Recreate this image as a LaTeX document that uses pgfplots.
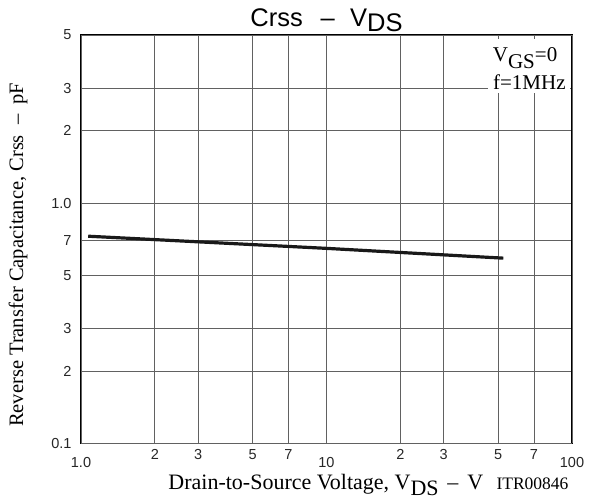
\documentclass[border=0pt]{standalone}
\usepackage{fontspec}
\setmainfont{Liberation Serif}
\setsansfont{Liberation Sans}
\usepackage{pgfplots}
\pgfplotsset{compat=1.18}
\begin{document}
\begin{tikzpicture}
\useasboundingbox (-81pt,-56.5pt) rectangle (509pt,443.5pt);
\begin{axis}[
  at={(0pt,0pt)}, anchor=south west,
  scale only axis, width=491pt, height=408.5pt,
  clip mode=individual,
  xmode=log, ymode=log,
  xmin=1, xmax=100, ymin=0.1, ymax=5,
  xtick={2,3,5,7,20,30,50,70},
  xticklabels={2,3,5,7,2,3,5,7},
  extra x ticks={1,10,100},
  extra x tick labels={1.0,10,100},
  extra x tick style={grid=major, xticklabel style={yshift=-8pt}},
  ytick={0.2,0.3,0.5,0.7,1,2,3},
  yticklabels={2,3,5,7,1.0,2,3},
  extra y ticks={0.1,5},
  extra y tick labels={0.1,5},
  extra y tick style={grid=major},
  xminorticks=false, yminorticks=false,
  major tick length=0pt,
  tick style={draw=none},
  grid=major,
  major grid style={black!62, line width=0.8pt},
  axis line style={line width=1.5pt, black},
  tick label style={font=\sffamily\fontsize{14.5}{16}\selectfont, text=black!85},
  xticklabel style={yshift=-2pt},
  yticklabel style={xshift=-6pt},
  every axis title shift=0pt,
  title={Crss\hspace{0.7em}–\hspace{0.6em}V\raisebox{-5pt}{DS}},
  title style={font=\sffamily\fontsize{25.5}{28}\selectfont, at={(axis description cs:0.5,1)}, anchor=base, yshift=8.3pt},
  xlabel={Drain-to-Source Voltage, V\raisebox{-6pt}{DS}\hspace{0.4em}–\hspace{0.4em}V},
  xlabel style={font=\fontsize{22}{24}\selectfont, at={(axis description cs:0.4986,-0.1138)}, anchor=base},
  ylabel={Reverse Transfer Capacitance, Crss\hspace{0.5em}–\hspace{0.5em}pF},
  every axis y label/.style={font=\fontsize{20.5}{24}\selectfont, at={(axis description cs:-0.128,0.462)}, rotate=90, anchor=center},
]
\addplot[line width=3.2pt, color=black!90] coordinates {(1.07,0.728) (10,0.648) (52.5,0.59)};
\node[fill=white, anchor=north west, inner sep=0pt, minimum width=82pt, minimum height=54pt] at (rel axis cs:0.8289,0.9902) {};
\node[anchor=base west, inner sep=0pt, font=\fontsize{21}{24}\selectfont] at (rel axis cs:0.8385,0.9346) {V\raisebox{-7pt}{GS}=0};
\node[anchor=base west, inner sep=0pt, font=\fontsize{21}{24}\selectfont] at (rel axis cs:0.839,0.8654) {f=1MHz};
\node[anchor=base, inner sep=0pt, font=\fontsize{17.5}{19}\selectfont] at (axis description cs:0.9196,-0.1138) {ITR00846};
\end{axis}
\end{tikzpicture}
\end{document}
